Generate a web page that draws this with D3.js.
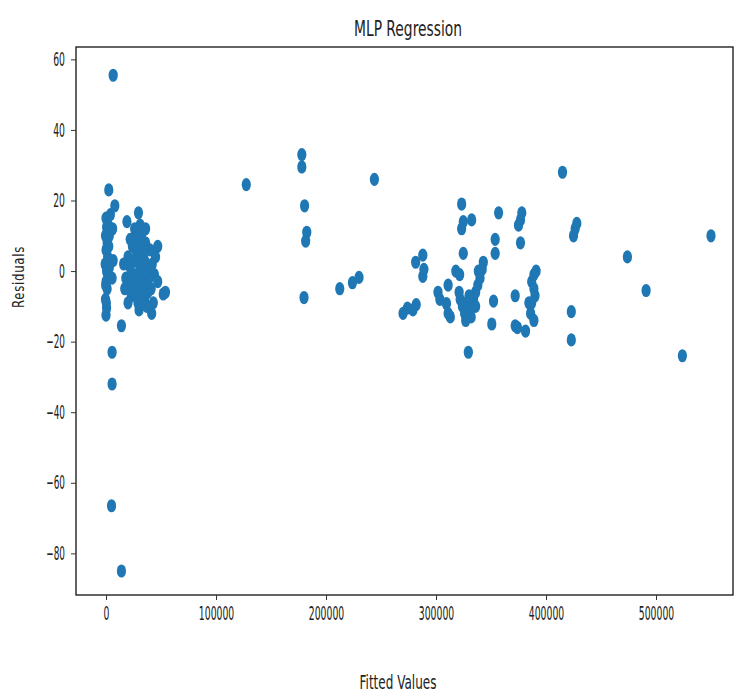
<!DOCTYPE html>
<html>
<head>
<meta charset="utf-8">
<script src="https://cdn.jsdelivr.net/npm/d3@7"></script>
<style>
  html, body { margin: 0; padding: 0; background: #fff; }
  svg { display: block; }
  text { font-family: "DejaVu Sans", sans-serif; fill: #222; }
</style>
</head>
<body>
<svg id="chart" width="734" height="693"></svg>
<script>
// ---- data ----
const chartTitle = "MLP Regression";
const xLabel = "Fitted Values";
const yLabel = "Residuals";
const xTickValues = [0, 100000, 200000, 300000, 400000, 500000];
const yTickValues = [-80, -60, -40, -20, 0, 20, 40, 60];

const fittedValues = [
  // near-zero column
  0, 500, -500, 1000, 0, 1500, -800, 500, 0, 1000, -500, 500, 0, 2000, 3000, 2500, 3500, 1500, -300, 300, 4000, 3000, 6000, 5500, 6500,
  2500, 8000, 6500, 5500, 5500, 5000, 14000, 14000,
  // dense cluster
  19000, 29500, 31000, 27000, 33000, 24000, 36000, 40000, 47000, 45000, 20000, 22000, 25000, 28000, 30000, 32000, 35000, 38000, 42000, 44000,
  18000, 21000, 24000, 27000, 30000, 33000, 36000, 39000, 41000, 23000, 26000, 29000, 32000, 35000, 38000, 43000, 41500, 52000, 54000,
  16000, 17000, 20000, 28000, 34000, 31000, 37000, 26000, 36000, 22000, 47000, 30000,
  // middle
  127500, 178000, 178000, 180500, 182500, 181500, 180000, 212500, 224000, 230000, 244000,
  // right group
  270000, 274000, 279000, 282000, 281500, 288000, 288000, 289000,
  301800, 303500, 309500, 311000, 311000, 313000,
  318000, 321500, 323300, 324800, 323300, 332400, 324800, 321000,
  322000, 324000, 326000, 328000, 330000, 332000, 334000, 336000, 338000, 340000, 336000, 327000, 330000, 343000, 338500, 342000, 329400,
  350700, 352300, 353800, 353800, 356900,
  372000, 372000, 374000, 376800, 375000, 378000, 376800, 381400, 384400, 386000, 389000,
  387000, 389000, 389000, 390000, 391000, 387000,
  415000, 423000, 423000, 425000, 426500, 428000,
  474000, 491000, 524000, 550000
];

const residuals = [
  15, 12.5, 10, 8, 6, 4, 2, 0, -3, -5, -8, -10.5, -12.5, 13, 10, 7, 3, -1, -4, -9, 16, 1, 12, -2, 3,
  23, 18.5, 55.5, -23, -32, -66.5, -85, -15.5,
  14, 16.5, 13, 10, 11, 7, 8, 6, 7, 4, 4, 1, 3, 5, 2, 0, 3, 1, 2, -1,
  -2, -4, -1, -3, -5, -2, -4, -2, -5, -7, -6, -9, -7, -8, -6, -9, -12, -6.5, -6,
  2, -5, -9, -1, 5, 8, -10, 12, 12, 9, -3, -11,
  24.5, 33, 29.5, 18.5, 11, 8.5, -7.5, -5, -3.3, -1.8, 26,
  -12, -10.5, -11, -9.5, 2.5, 4.5, -1.5, 0.5,
  -6, -8, -9.2, -4, -12, -13,
  0, -1, 19, 14, 12, 14.5, 5, -6,
  -8, -10, -12, -9, -11, -13, -8, -6, -4, -2, -10, -14, -7, 2.5, 0, 0.5, -23,
  -15, -8.5, 9, 5, 16.5,
  -7, -15.5, -16, 14.5, 13, 16.5, 8, -17, -9, -12, -14,
  -3, -1, -5, -7, 0, -9,
  28, -11.5, -19.5, 10, 12, 13.5,
  4, -5.5, -24, 10
];

// ---- layout ----
const svg = d3.select("#chart");
const plotLeft = 76, plotRight = 733, plotTop = 47, plotBottom = 595;

const x = d3.scaleLinear().domain([-27300, 570000]).range([plotLeft, plotRight]);
const y = d3.scaleLinear().domain([-91.8, 63.5]).range([plotBottom, plotTop]);

const points = fittedValues.map((f, i) => ({ f, r: residuals[i] }));

// points
svg.append("g")
  .selectAll("ellipse")
  .data(points)
  .join("ellipse")
  .attr("cx", d => x(d.f))
  .attr("cy", d => y(d.r))
  .attr("rx", 4.6)
  .attr("ry", 6.6)
  .attr("fill", "#1f77b4");

// frame
svg.append("rect")
  .attr("x", plotLeft).attr("y", plotTop)
  .attr("width", plotRight - plotLeft).attr("height", plotBottom - plotTop)
  .attr("fill", "none").attr("stroke", "#111").attr("stroke-width", 1.3);

const minus = v => v < 0 ? "\u2212" + Math.abs(v) : String(v);
const labelLen = s => { let w = 0; for (const c of s) w += (c === "\u2212" ? 7 : 5.9); return w; };

// x axis
const xAxis = svg.append("g")
  .attr("transform", `translate(0,${plotBottom})`)
  .call(d3.axisBottom(x).tickValues(xTickValues).tickFormat(d => String(d)).tickSize(5).tickPadding(7));
xAxis.select(".domain").remove();
xAxis.selectAll(".tick line").attr("stroke", "#333");
xAxis.selectAll(".tick text")
  .attr("font-size", 19)
  .attr("fill", "#222")
  .attr("font-family", "DejaVu Sans, sans-serif")
  .attr("textLength", d => labelLen(String(d)))
  .attr("lengthAdjust", "spacingAndGlyphs");

// y axis
const yAxis = svg.append("g")
  .attr("transform", `translate(${plotLeft},0)`)
  .call(d3.axisLeft(y).tickValues(yTickValues).tickFormat(minus).tickSize(5).tickPadding(6));
yAxis.select(".domain").remove();
yAxis.selectAll(".tick line").attr("stroke", "#333");
yAxis.selectAll(".tick text")
  .attr("font-size", 19)
  .attr("fill", "#222")
  .attr("font-family", "DejaVu Sans, sans-serif")
  .attr("textLength", d => labelLen(minus(d)))
  .attr("lengthAdjust", "spacingAndGlyphs");

// title
svg.append("text")
  .attr("x", 408).attr("y", 36)
  .attr("text-anchor", "middle")
  .attr("font-size", 21)
  .attr("textLength", 108).attr("lengthAdjust", "spacingAndGlyphs")
  .text(chartTitle);

// x label
svg.append("text")
  .attr("x", 398).attr("y", 689)
  .attr("text-anchor", "middle")
  .attr("font-size", 20)
  .attr("textLength", 77).attr("lengthAdjust", "spacingAndGlyphs")
  .text(xLabel);

// y label
svg.append("text")
  .attr("transform", "translate(24,277) scale(0.9,1) rotate(-90)")
  .attr("text-anchor", "middle")
  .attr("font-size", 17)
  .attr("letter-spacing", 1)
  .attr("fill", "#333")
  .attr("textLength", 62).attr("lengthAdjust", "spacingAndGlyphs")
  .text(yLabel);
</script>
</body>
</html>
